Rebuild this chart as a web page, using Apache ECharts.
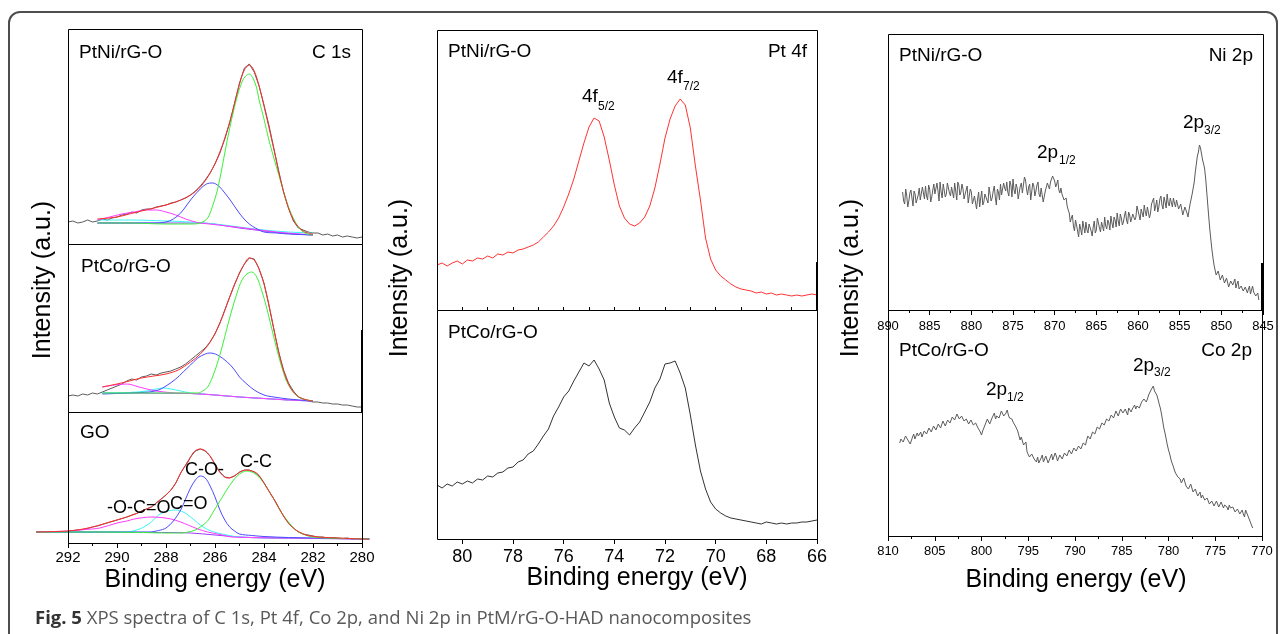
<!DOCTYPE html>
<html>
<head>
<meta charset="utf-8">
<title>XPS spectra of PtM/rG-O-HAD nanocomposites</title>
<script src="https://cdn.jsdelivr.net/npm/echarts@6/dist/echarts.min.js"></script>
<style>
  html, body { margin: 0; padding: 0; background: #fff; }
  #chart { width: 1285px; height: 634px; }
</style>
</head>
<body>
<div id="chart"></div>
<script>
// ===================== data =====================
// C 1s survey: 292.0 -> 280.0 eV in 0.2 eV steps (intensity, a.u.)
const c1sStart = 292.0, c1sStep = 0.2;
const ptniC1sCounts = [22,23,21,22,24,22,23,25,24,26,
  27,29,30,32,31,34,35,35,37,38,
  39,41,42,44,46,49,53,58,64,71,
  80,91,105,121,141,161,176,180,172,158,
  139,119,96,73,52,36,23,16,14,12,
  11,11,9,10,8,9,7,8,7,6,
  7];
const ptcoC1sCounts = [16,17,16,18,17,19,18,20,22,24,
  26,28,31,33,32,35,36,38,37,39,
  40,41,43,45,48,52,56,60,64,70,
  78,89,102,115,128,139,148,154,153,143,
  129,107,83,60,42,29,21,15,13,11,
  10,10,9,9,8,8,7,7,6,5,
  5];
const goC1sCounts = [12,12.5,13,13.5,14.5,16,17,18.5,20,21.5,
  23,24.5,26,28,29.5,32,34,36,40,44,
  48,53,60,70,78,86,92,94,92,87,
  79,71,66,65,67,71,73,73,71,67,
  60,52,44,35,27,20,15,11,9,8,
  7,6,6,5,5.5,5,4.5,5,4,4.5,
  4];

// C 1s peak fits, [binding energy, intensity]
const ptniEnvelope = [[290.8,25],[290,27],[289.5,30],[289,33],[288.5,36],[288,39],[287.5,43],[287,49],[286.6,57],[286.2,71],[285.8,92],[285.4,122],[285,160],[284.8,174],[284.6,179],[284.4,173],[284.2,158],[284,138],[283.6,95],[283.2,52],[282.8,24],[282.4,13],[282,10]];
const ptniCC = [[290.8,21],[289.5,21],[288,20],[287,20],[286.6,21],[286.3,26],[286.1,38],[285.9,54],[285.7,78],[285.5,104],[285.3,127],[285.1,147],[284.9,162],[284.75,168],[284.6,170],[284.45,166],[284.3,156],[284.2,144],[284,125],[283.8,104],[283.55,82],[283.3,61],[283.1,44],[282.9,31],[282.7,21],[282.5,14],[282.25,10],[282,9]];
const ptniCO = [[290.8,21],[289.5,21],[288.5,21],[288,22],[287.7,25],[287.4,31],[287.15,39],[286.9,47],[286.6,55],[286.35,60],[286.1,61],[285.85,58],[285.6,51],[285.35,43],[285.1,34],[284.85,26],[284.6,20],[284.35,16],[284,12],[283.5,11],[283,10],[282,9]];
const ptniOCO = [[290.8,24],[290.3,27],[289.8,30],[289.3,32],[288.8,34],[288.4,34],[288,32],[287.6,29],[287.2,25],[286.8,22],[286.6,21],[285.5,18],[284.5,15],[283.5,12],[282,9]];
const ptniCdO = [[290.8,24],[289.5,24],[288,23],[287,22],[286,20],[285,17],[284,14],[283,12],[282,11]];
const ptniBackground = [[290.8,21],[286.6,21],[285,16],[284,13],[283,10.5],[282,9]];

const ptcoEnvelope = [[290.6,25],[290,28],[289.5,31],[289,34],[288.5,36],[288,38],[287.5,42],[287,50],[286.6,58],[286.2,70],[285.8,89],[285.4,115],[285,139],[284.8,148],[284.6,154],[284.4,152],[284.2,143],[284,128],[283.8,107],[283.6,83],[283.4,60],[283.2,41],[283,28],[282.8,20],[282.5,14],[282,11]];
const ptcoCC = [[290.6,19],[288,19],[287,19],[286.7,19],[286.5,21],[286.3,25],[286.1,35],[285.9,49],[285.7,66],[285.5,85],[285.3,103],[285.1,119],[284.9,132],[284.7,138],[284.5,140],[284.3,135],[284.1,122],[283.9,105],[283.7,85],[283.5,65],[283.3,47],[283.1,32],[282.9,23],[282.7,17],[282.4,13],[282,11]];
const ptcoCO = [[290.6,18],[289.5,19],[288.7,20],[288.3,22],[288,26],[287.6,33],[287.3,40],[287,47],[286.7,54],[286.4,58],[286.2,59],[285.9,57],[285.5,50],[285.2,42],[285,35],[284.7,28],[284.4,22],[284,17],[283.6,15],[283,13],[282,11]];
const ptcoOCO = [[290.6,25],[290.1,27],[289.6,28],[289.1,25],[288.4,21],[287.6,19],[287,18.5],[286,17],[285,15],[284,13.5],[283,12],[282,11]];
const ptcoCdO = [[290.6,19],[289.5,19.5],[288.8,21],[288.4,23],[288.1,24],[287.8,23],[287.4,21],[287,19],[286.5,18],[285,15],[284,13.5],[283,12],[282,11]];
const ptcoBackground = [[290.6,19],[287,18.5],[286,17],[285,15],[284,13.5],[283,12],[282,11]];

const goEnvelope = [[293.3,11],[292.5,11.5],[292,12],[291.5,13.5],[291,16],[290.7,18],[290.3,21],[290,23],[289.6,26],[289.2,29.5],[288.9,33],[288.6,36],[288.4,40],[288.1,46],[287.8,53],[287.6,60],[287.4,70],[287.25,76],[287.1,81],[286.9,90],[286.75,93],[286.6,94],[286.45,93],[286.3,90],[286.1,83],[285.9,74],[285.7,68],[285.5,65],[285.3,66],[285.1,69],[284.9,72],[284.7,73],[284.5,72],[284.3,70],[284.1,64],[283.9,56],[283.7,48],[283.5,40],[283.3,31],[283.1,23],[282.9,17],[282.7,13],[282.4,9],[282.1,7],[281.5,5.5],[281,5],[280.5,4.5],[280,4],[279.7,4]];
const goCC = [[293.3,11],[291,11],[289,10.5],[288,10],[287.4,10],[287.1,11],[286.8,13],[286.6,16],[286.3,22],[286.1,30],[285.9,38],[285.7,46],[285.5,54],[285.3,61],[285.1,67],[284.9,70.5],[284.7,72],[284.5,71],[284.3,68],[284.1,63],[283.9,56],[283.7,48],[283.5,40],[283.3,31],[283.1,24],[282.9,18],[282.7,13],[282.5,10],[282.2,7],[282,6],[281.5,5],[280.5,4.5],[279.7,4]];
const goCO = [[293.3,11],[289.5,11],[288.7,11],[288.3,12.5],[288,15],[287.7,22],[287.4,33],[287.2,44],[287,55],[286.8,63],[286.6,67],[286.4,65],[286.2,57],[286,46],[285.8,33],[285.6,23],[285.4,16],[285.2,12],[285,9],[284.5,7.5],[284,6.5],[283,5.5],[281,4.5],[279.7,4]];
const goCdO = [[293.3,11],[290,11],[289.6,11],[289.2,13],[288.9,16],[288.6,21],[288.3,28],[288,31.5],[287.6,33],[287.3,31],[287.1,28],[286.85,23],[286.6,18],[286.3,13.5],[285.9,10],[285.5,8],[285.2,6.5],[284.5,5.5],[283,5],[279.7,4]];
const goOCO = [[293.3,11],[292.5,11.5],[292,12],[291.3,13.5],[290.7,15],[290,20],[289.6,22],[289.3,24],[288.9,25.5],[288.6,26],[288.2,25.5],[287.8,24],[287.4,21],[287.1,18],[286.7,14],[286.3,11],[285.8,8.5],[285.3,6],[284.5,5.5],[283,5],[279.7,4]];
const goBackground = [[293.3,11],[288,10.5],[287,10],[286,8],[285,6],[284,5],[282,4.5],[279.7,4]];
// energy span of the GO fit curves (they run past the plotted window)
const goFitExtent = [279.7, 293.3];

// Pt 4f: 81.0 -> 66.0 eV in 0.2 eV steps
const pt4fStart = 81.0, pt4fStep = 0.2;
const ptniPt4f = [45,47,44,47,49,46,50,49,52,51,
  54,52,56,55,58,57,60,61,63,65,
  68,73,78,84,92,103,116,131,149,167,
  183,192,189,173,150,125,104,92,86,84,
  87,93,104,122,146,172,191,204,211,205,
  182,144,110,72,51,40,34,30,26,23,
  21,20,19,17,18,16,17,15,16,15,
  14,15,14,15,16,15];
const ptcoPt4f = [54,51,55,53,57,55,58,56,60,59,
  63,62,66,67,71,72,77,79,85,88,
  95,103,110,123,132,142,148,158,167,176,
  173,179,170,159,136,122,111,109,104,111,
  117,127,137,151,160,175,176,178,166,151,
  124,94,68,50,37,30,26,23,21,20,
  19,18,17,16,15,17,16,15,16,15,
  16,16,17,17,18,19];

// Ni 2p: 888.25 -> 845.5 eV in 0.125 eV steps
const ni2pStart = 888.25, ni2pStep = 0.125;
const ni2pCounts = [
  118,109,106,121,114,103,109,117,120,112,104,119,116,107,111,115,122,110,108,123,
  117,111,124,114,110,125,121,108,113,120,126,116,115,127,119,109,128,118,112,126,
  124,113,116,127,129,117,114,123,122,112,127,119,110,128,125,115,118,126,121,111,
  113,120,124,107,109,121,118,106,104,114,116,101,111,118,103,112,119,105,108,116,
  117,110,107,123,121,109,112,119,124,113,105,121,118,110,126,115,113,127,122,119,
  128,118,114,129,125,113,131,120,116,126,122,111,109,124,127,117,118,133,130,121,
  115,123,126,110,112,127,124,114,119,125,128,116,113,122,121,108,110,119,118,127,
  124,121,128,131,134,136,129,123,126,130,120,117,122,116,113,110,108,112,104,100,
  97,88,92,95,84,79,90,85,79,73,86,81,75,89,83,77,88,80,77,86,
  85,79,74,83,89,77,80,92,91,82,78,88,86,79,93,84,81,90,87,80,
  94,87,82,93,90,83,97,89,84,96,92,85,88,94,99,90,86,98,95,88,
  89,96,98,90,93,104,102,95,90,101,99,93,105,98,94,103,101,92,97,106,
  106,112,99,104,110,98,103,111,114,105,101,113,108,102,116,107,104,112,110,103,
  112,107,103,110,108,101,99,106,104,95,96,103,101,97,93,100,106,111,116,122,
  128,138,146,154,158,165,162,156,150,146,141,131,118,105,92,80,70,60,52,45,
  40,35,33,39,37,30,28,35,34,27,26,32,31,23,24,29,30,25,27,31,
  22,26,29,21,20,24,26,19,18,23,25,17,21,24,16,20,24,18,19,14,
  12,17,10];

// Co 2p: 808.75 -> 771.0 eV in 0.125 eV steps
const co2pStart = 808.75, co2pStep = 0.125;
const co2pCounts = [
  93,97,99,94,95,100,101,96,97,92,94,99,102,97,98,103,100,98,104,99,
  101,105,107,102,103,108,109,104,105,110,111,106,108,112,113,108,110,115,114,110,
  112,116,117,113,115,119,120,116,117,122,121,117,116,120,119,115,114,117,118,112,
  113,116,115,111,110,113,112,108,107,104,101,105,108,111,112,117,116,112,114,118,
  119,123,117,120,122,118,120,125,124,120,121,123,126,121,118,119,117,114,112,110,
  108,105,103,96,99,95,91,89,94,84,86,79,80,82,84,77,76,74,79,73,
  72,78,81,74,75,80,79,73,74,79,82,76,77,83,80,75,76,81,83,77,
  79,83,84,80,82,86,87,82,83,88,89,85,86,90,92,87,88,93,95,91,
  96,100,101,97,99,104,106,102,104,109,111,107,108,113,115,111,113,117,119,115,
  117,121,122,118,119,125,124,120,121,127,126,123,122,127,125,121,128,126,124,127,
  129,131,127,130,132,128,130,134,135,137,139,134,137,141,143,146,148,150,145,144,
  141,137,132,128,122,115,108,103,97,91,86,82,77,73,70,66,63,61,59,57,
  57,53,54,58,56,50,51,47,48,52,50,44,45,47,43,40,41,44,38,41,
  39,36,35,38,37,32,33,35,36,30,32,35,34,29,30,34,33,28,31,33,
  29,26,31,28,27,29,30,24,25,27,28,22,24,26,22,19,26,23,20,17,
  15,11,8];

// axis ranges [min, max, tick interval] (binding energy, eV)
const c1sRange = [280, 292, 2];
const pt4fRange = [66, 81, 2];
const ni2pRange = [845, 890, 5];
const co2pRange = [770, 810, 5];
// intensity ranges of the seven panels (a.u.)
const intensityTop = [215, 168, 131, 280, 229, 276, 226];

// ===================== layout =====================
const FONT = '"Liberation Sans", Arial, Helvetica, sans-serif';
const PANELS = [
  { left: 68,  top: 29,  width: 294, height: 215 },  // C 1s PtNi
  { left: 68,  top: 244, width: 294, height: 168 },  // C 1s PtCo
  { left: 68,  top: 412, width: 294, height: 131 },  // C 1s GO
  { left: 437, top: 30,  width: 380, height: 280 },  // Pt 4f PtNi
  { left: 437, top: 310, width: 380, height: 229 },  // Pt 4f PtCo
  { left: 888, top: 34,  width: 375, height: 276 },  // Ni 2p
  { left: 888, top: 310, width: 374, height: 226 }   // Co 2p
];
// wider, unframed overlay on the GO panel with the same eV scale, so the fit curves can run past the frame
const goPanel = PANELS[2];
const pxPerEv = goPanel.width / (c1sRange[1] - c1sRange[0]);
const goOverlay = {
  left: goPanel.left - (goFitExtent[1] - c1sRange[1]) * pxPerEv,
  top: goPanel.top,
  width: (goFitExtent[1] - goFitExtent[0]) * pxPerEv,
  height: goPanel.height
};

function sampled(start, step, values) {
  return values.map((v, i) => [+(start - i * step).toFixed(4), v]);
}

function xAxisFor(gi, range, opts) {
  const o = opts || {};
  const shown = !!o.shown;
  return {
    type: 'value', gridIndex: gi, min: range[0], max: range[1], interval: range[2],
    inverse: true, show: true,
    axisLine: { show: false },
    splitLine: { show: false },
    axisTick: { show: shown && o.ticks !== false, inside: false, length: o.tickLen || 5, lineStyle: { color: '#000', width: 1 } },
    minorTick: { show: shown && !!o.minor, splitNumber: 2, length: 3, lineStyle: { color: '#000', width: 1 } },
    axisLabel: {
      show: shown && o.labels !== false, color: '#000', fontFamily: FONT,
      fontSize: o.fontSize || 15, margin: o.margin || 5,
      showMaxLabel: o.showMaxLabel !== false, showMinLabel: true
    }
  };
}

const xAxes = [
  xAxisFor(0, c1sRange),
  xAxisFor(1, c1sRange),
  xAxisFor(2, c1sRange, { shown: true, minor: true, fontSize: 15, margin: 7 }),
  xAxisFor(3, pt4fRange),
  xAxisFor(4, pt4fRange, { shown: true, fontSize: 18, margin: 9, showMaxLabel: false }),
  xAxisFor(5, ni2pRange, { shown: true, minor: true, fontSize: 13, margin: 10 }),
  xAxisFor(6, co2pRange, { shown: true, minor: true, fontSize: 13, margin: 9 }),
  // 1 eV minor ticks for the Pt 4f scale
  xAxisFor(4, [pt4fRange[0], pt4fRange[1], 1], { shown: true, labels: false, tickLen: 3 }),
  // GO fit overlay (hidden)
  { type: 'value', gridIndex: 7, min: goFitExtent[0], max: goFitExtent[1], inverse: true, show: false }
];

const yAxes = PANELS.map((p, i) => ({
  type: 'value', gridIndex: i, min: 0, max: intensityTop[i], show: false
}));
yAxes.push({ type: 'value', gridIndex: 7, min: 0, max: intensityTop[2], show: false });

function line(xi, yi, data, color, extra) {
  return Object.assign({
    type: 'line', xAxisIndex: xi, yAxisIndex: yi, data: data,
    showSymbol: false, symbol: 'none', silent: true, animation: false,
    lineStyle: { color: color, width: 1 }
  }, extra || {});
}

const GRAY = '#5c5c5c';
const C = { red: '#ff2d2d', green: '#3cf03c', blue: '#4b4bff', magenta: '#ff3cff', cyan: '#3cf5f5', purple: '#9b3cff' };
const SM = { smooth: 0.35 };

// gray measured trace on panel gi, fitted curves on axes (fx, fy)
function c1sSeries(gi, fx, fy, counts, env, cc, co, oco, cdo, bg) {
  return [
    line(gi, gi, sampled(c1sStart, c1sStep, counts), GRAY),
    line(fx, fy, bg, C.purple, SM),
    line(fx, fy, cdo, C.cyan, SM),
    line(fx, fy, oco, C.magenta, SM),
    line(fx, fy, co, C.blue, SM),
    line(fx, fy, cc, C.green, SM),
    line(fx, fy, env, C.red, SM)
  ];
}

const series = [].concat(
  c1sSeries(0, 0, 0, ptniC1sCounts, ptniEnvelope, ptniCC, ptniCO, ptniOCO, ptniCdO, ptniBackground),
  c1sSeries(1, 1, 1, ptcoC1sCounts, ptcoEnvelope, ptcoCC, ptcoCO, ptcoOCO, ptcoCdO, ptcoBackground),
  c1sSeries(2, 8, 7, goC1sCounts, goEnvelope, goCC, goCO, goOCO, goCdO, goBackground),
  [
    line(3, 3, sampled(pt4fStart, pt4fStep, ptniPt4f), '#ff3333'),
    line(4, 4, sampled(pt4fStart, pt4fStep, ptcoPt4f), '#333333'),
    line(5, 5, sampled(ni2pStart, ni2pStep, ni2pCounts), GRAY),
    line(6, 6, sampled(co2pStart, co2pStep, co2pCounts), GRAY)
  ]
);

// ---- frame, panel boxes and text ----
function txt(text, x, y, size, align, extra) {
  return Object.assign({
    type: 'text', x: x, y: y, silent: true, z: 20,
    style: { text: text, fill: '#000', fontFamily: FONT, fontSize: size, align: align || 'left', verticalAlign: 'middle' }
  }, extra || {});
}
function vbar(x, y1, y2) {
  return { type: 'line', silent: true, z: 20, shape: { x1: x, y1: y1, x2: x, y2: y2 }, style: { stroke: '#000', lineWidth: 2 } };
}

const graphics = [
  { type: 'rect', silent: true, z: -10, shape: { x: 9, y: 12, width: 1268, height: 700, r: 11 },
    style: { fill: 'none', stroke: '#4d4d4d', lineWidth: 2 } }
];
PANELS.forEach(p => graphics.push({
  type: 'rect', silent: true, z: 10,
  shape: { x: p.left + 0.5, y: p.top + 0.5, width: p.width, height: p.height },
  style: { fill: 'none', stroke: '#000', lineWidth: 1 }
}));
graphics.push(vbar(362, 330, 412), vbar(817, 262, 310), vbar(1262, 263, 310));

// panel names
graphics.push(
  txt('PtNi/rG-O', 79, 53, 19), txt('C 1s', 351, 53, 19, 'right'),
  txt('PtCo/rG-O', 81, 267, 19), txt('GO', 80, 433, 19),
  txt('PtNi/rG-O', 448, 52, 19), txt('Pt 4f', 807, 52, 19, 'right'),
  txt('PtCo/rG-O', 448, 333, 19),
  txt('PtNi/rG-O', 899, 56, 19), txt('Ni 2p', 1253, 56, 19, 'right'),
  txt('PtCo/rG-O', 899, 351, 19), txt('Co 2p', 1252, 351, 19, 'right')
);
// C 1s component labels
graphics.push(
  txt('C-O-', 185, 470, 18), txt('C-C', 240, 462, 18),
  txt('-O-C=O', 107, 508, 18), txt('C=O', 170, 504, 18)
);
// spin-orbit peak labels
graphics.push(
  txt('4f', 582, 97, 19), txt('5/2', 598, 107, 12),
  txt('4f', 667, 78, 19), txt('7/2', 683, 87, 12),
  txt('2p', 1037, 153, 19), txt('1/2', 1059, 161, 12),
  txt('2p', 1183, 123, 19), txt('3/2', 1204, 131, 12),
  txt('2p', 986, 390, 19), txt('1/2', 1007, 398, 12),
  txt('2p', 1133, 366, 19), txt('3/2', 1154, 373, 12)
);
// axis titles
graphics.push(
  txt('Binding energy (eV)', 215, 580, 25, 'center'),
  txt('Binding energy (eV)', 637, 578, 25, 'center'),
  txt('Binding energy (eV)', 1076, 580, 25, 'center'),
  txt('Intensity (a.u.)', 43, 280, 25, 'center', { rotation: Math.PI / 2 }),
  txt('Intensity (a.u.)', 400, 278, 25, 'center', { rotation: Math.PI / 2 }),
  txt('Intensity (a.u.)', 851, 278, 25, 'center', { rotation: Math.PI / 2 })
);
// figure caption
graphics.push({
  type: 'text', x: 35, y: 619, silent: true, z: 20,
  style: {
    text: '{b|Fig. 5}{n| XPS spectra of C 1s, Pt 4f, Co 2p, and Ni 2p in PtM/rG-O-HAD nanocomposites}',
    align: 'left', verticalAlign: 'middle',
    rich: {
      b: { fontFamily: '"Open Sans", sans-serif', fontSize: 18.5, fontWeight: 'bold', fill: '#333333' },
      n: { fontFamily: '"Open Sans", sans-serif', fontSize: 18.5, fill: '#595959' }
    }
  }
});

const gridList = PANELS.concat([goOverlay]).map(p => ({
  left: p.left, top: p.top, width: p.width, height: p.height,
  show: false, containLabel: false, outerBoundsMode: 'none'
}));

const chart = echarts.init(document.getElementById('chart'), null, { renderer: 'canvas' });
chart.setOption({
  animation: false,
  backgroundColor: '#ffffff',
  grid: gridList,
  xAxis: xAxes,
  yAxis: yAxes,
  series: series,
  graphic: { elements: graphics }
});
</script>
</body>
</html>
